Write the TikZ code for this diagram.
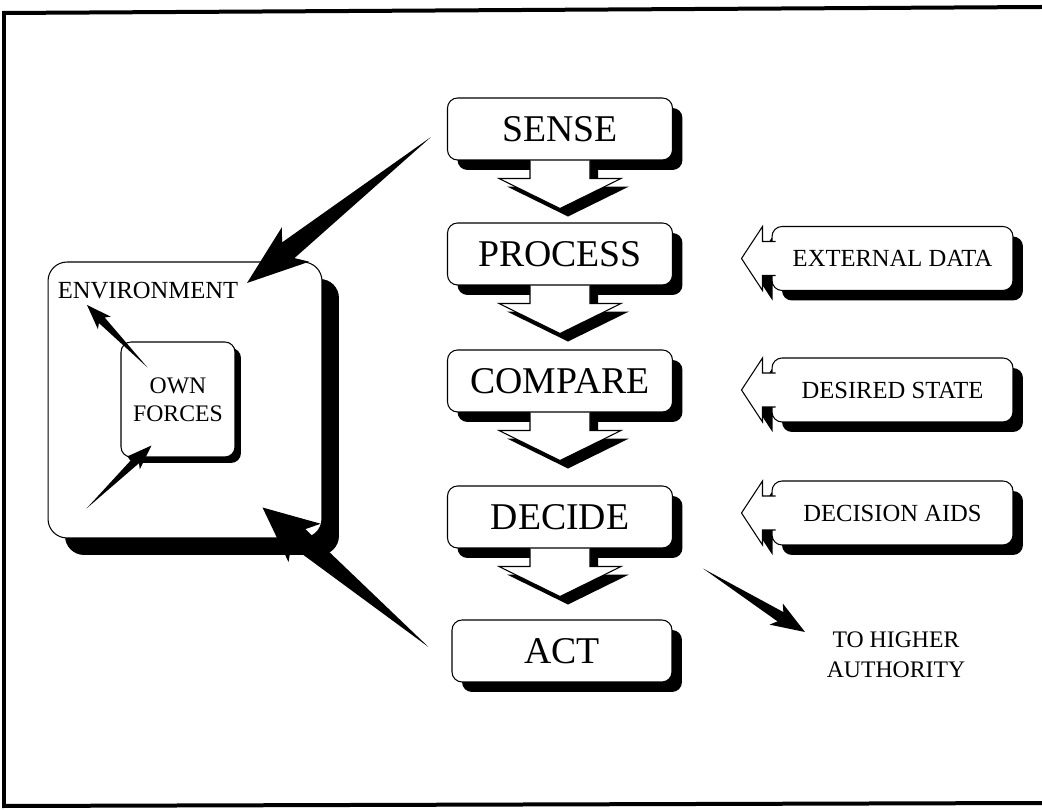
\documentclass[tikz,border=0pt]{standalone}
\usepackage{fontspec}
\setmainfont{Liberation Serif}
\usetikzlibrary{calc,shadows,backgrounds}

\tikzset{
  stage/.style={draw, fill=white, line width=0.6pt, rounded corners=0.2cm,
    minimum width=4.5cm, minimum height=1.24cm, font=\fontsize{21.5}{24}\selectfont,
    drop shadow={shadow xshift=0.2cm, shadow yshift=-0.2cm, fill=black, opacity=1}},
  source/.style={draw, fill=white, line width=0.6pt, rounded corners=0.2cm,
    minimum width=4.82cm, minimum height=1.28cm, font=\fontsize{14}{17}\selectfont,
    drop shadow={shadow xshift=0.2cm, shadow yshift=-0.2cm, fill=black, opacity=1}},
  smalltext/.style={font=\fontsize{14}{17}\selectfont, align=center, inner sep=1pt},
}

% black tapered arrow: tail, tip, head length, head half width, stem half width
\newcommand{\wedgearrow}[5]{%
  \coordinate (wb) at ($(#2)!#3!(#1)$);
  \coordinate (wj) at ($(#2)!0.85*#3!(#1)$);
  \fill (#1) -- ($(wj)!#5!90:(#2)$) -- ($(wb)!#4!90:(#2)$) -- (#2)
    -- ($(wb)!#4!-90:(#2)$) -- ($(wj)!#5!-90:(#2)$) -- cycle;
}

\begin{document}
\begin{tikzpicture}[x=0.02cm,y=-0.02cm]
\useasboundingbox (0,0) rectangle (1042,810);
\draw[line width=0.08cm] (1042,7) -- (4,13) -- (4,806) -- (1042,803);

% the loop
\node[stage] (sense) at (560,129) {SENSE};
\node[stage] (process) at (560,254) {PROCESS};
\node[stage] (compare) at (560,381) {COMPARE};
\node[stage] (decide) at (560,517) {DECIDE};
\node[stage, minimum width=4.4cm] (act) at (562,651) {ACT};

\foreach \a in {sense,process,compare,decide}{
  \fill[shift={(\a.south)}, xshift=0.16cm, yshift=-0.16cm]
    (-30,0) -- (-30,18) -- (-61,18) -- (0,48) -- (61,18) -- (30,18) -- (30,0) -- cycle;
  \draw[fill=white, line width=0.6pt, shift={(\a.south)}]
    (-30,0) -- (-30,18) -- (-61,18) -- (0,48) -- (61,18) -- (30,18) -- (30,0);
}

% inputs
\node[source] (ext) at (892.5,258.5) {EXTERNAL DATA};
\node[source] (desired) at (892.5,390) {DESIRED STATE};
\node[source] (aids) at (892.5,513) {DECISION AIDS};

\foreach \s in {ext,desired,aids}{
  \begin{pgfonlayer}{background}
  \fill[shift={(\s.west)}, xshift=0.2cm, yshift=-0.2cm]
    (4,-17) -- (-9,-17) -- (-9,-32) -- (-30,0) -- (-9,32) -- (-9,17) -- (4,17) -- cycle;
  \end{pgfonlayer}
  \draw[fill=white, line width=0.6pt, shift={(\s.west)}]
    (4,-17) -- (-9,-17) -- (-9,-32) -- (-30,0) -- (-9,32) -- (-9,17) -- (4,17);
}

% environment
\node[draw, fill=white, line width=0.6pt, rounded corners=0.38cm,
  minimum width=5.48cm, minimum height=5.52cm,
  drop shadow={shadow xshift=0.34cm, shadow yshift=-0.34cm, fill=black, opacity=1}] (env) at (185,400) {};
\node[smalltext] (envtext) at (148,291) {ENVIRONMENT};
\node[draw, fill=white, line width=0.6pt, rounded corners=0.2cm,
  minimum width=2.28cm, minimum height=2.3cm, font=\fontsize{13.5}{16}\selectfont, align=center,
  drop shadow={shadow xshift=0.12cm, shadow yshift=-0.12cm, fill=black, opacity=1}] (own) at (178,399.5) {OWN\\FORCES};

\node[smalltext, font=\fontsize{13.5}{17}\selectfont] (higher) at (896,655) {TO HIGHER\\AUTHORITY};

% arrows
\coordinate (t1) at ($(sense.west)+(-16,8)$);
\coordinate (p1) at ($(envtext.center)+(99,-8)$);
\wedgearrow{t1}{p1}{1.24cm}{0.44cm}{0.2cm}
\coordinate (t2) at ($(act.west)+(-23,-4)$);
\coordinate (p2) at ($(env.south east)+(-60,-31)$);
\wedgearrow{t2}{p2}{1.1cm}{0.5cm}{0.22cm}
\coordinate (t3) at ($(decide.south east)+(30,20)$);
\coordinate (p3) at ($(higher.center)+(-91,-23)$);
\wedgearrow{t3}{p3}{0.68cm}{0.25cm}{0.11cm}
\coordinate (t4) at ($(own.north west)+(27,26)$);
\coordinate (p4) at ($(envtext.center)+(-61,14)$);
\wedgearrow{t4}{p4}{0.5cm}{0.18cm}{0.08cm}
\coordinate (t5) at ($(env.south west)+(39,-30)$);
\coordinate (p5) at ($(own.south west)+(31,-12)$);
\wedgearrow{t5}{p5}{0.5cm}{0.18cm}{0.08cm}
\end{tikzpicture}
\end{document}
